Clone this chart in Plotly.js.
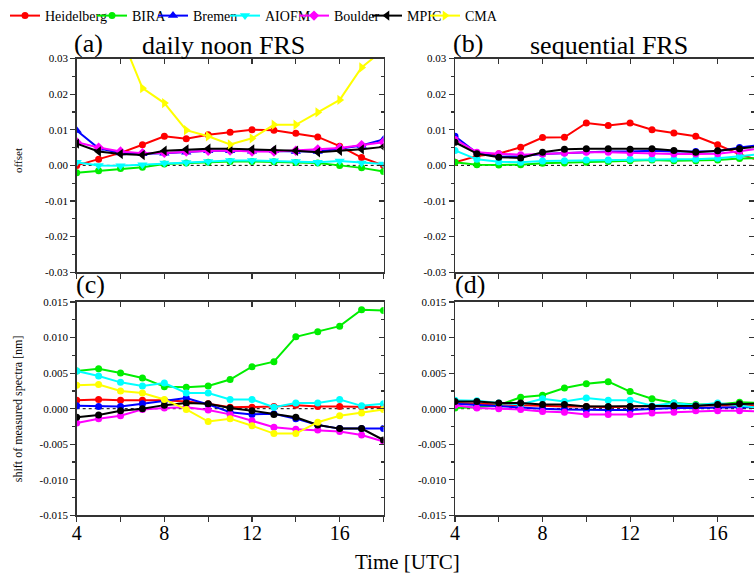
<!DOCTYPE html>
<html>
<head>
<meta charset="utf-8">
<script src="https://cdn.plot.ly/plotly-3.0.1.min.js"></script>
<style>html,body{margin:0;padding:0;background:#fff;}#chart{width:754px;height:580px;}</style>
</head>
<body>
<div id="chart"></div>
<script>
// ---------------- data ----------------
const hours = [4,5,6,7,8,9,10,11,12,13,14,15,16,17,18];
const seriesNames = ['Heidelberg','BIRA','Bremen','AIOFM','Boulder','MPIC','CMA'];

// (a) daily noon FRS - offset
const a_Heidelberg = [0.0000,0.0017,0.0035,0.0058,0.0082,0.0075,0.0086,0.0093,0.0100,0.0099,0.0090,0.0080,0.0054,0.0022,0.0000];
const a_BIRA       = [-0.0021,-0.0015,-0.0009,-0.0005,0.0004,0.0007,0.0009,0.0011,0.0011,0.0010,0.0008,0.0007,0.0000,-0.0007,-0.0017];
const a_Bremen     = [0.0098,0.0048,0.0035,0.0033,0.0034,0.0037,0.0041,0.0041,0.0040,0.0041,0.0039,0.0039,0.0047,0.0056,0.0073];
const a_AIOFM      = [0.0009,0.0000,-0.0001,0.0002,0.0007,0.0008,0.0011,0.0014,0.0014,0.0013,0.0011,0.0009,0.0012,0.0007,0.0004];
const a_Boulder    = [0.0065,0.0050,0.0039,0.0034,0.0035,0.0039,0.0041,0.0042,0.0039,0.0039,0.0041,0.0045,0.0049,0.0057,0.0065];
const a_MPIC       = [0.0061,0.0039,0.0032,0.0029,0.0041,0.0045,0.0047,0.0047,0.0045,0.0044,0.0041,0.0037,0.0041,0.0045,0.0052];
const a_CMA        = [null,null,0.0368,0.0217,0.0175,0.0099,0.0082,0.0059,0.0076,0.0114,0.0114,0.0149,0.0184,0.0275,0.0325];

// (b) sequential FRS - offset
const b_Heidelberg = [0.0009,0.0026,0.0033,0.0051,0.0078,0.0079,0.0119,0.0112,0.0119,0.0100,0.0091,0.0082,0.0058,0.0031,0.0012];
const b_BIRA       = [0.0009,0.0002,0.0001,0.0002,0.0006,0.0007,0.0009,0.0011,0.0013,0.0015,0.0013,0.0013,0.0015,0.0019,0.0021];
const b_Bremen     = [0.0082,0.0035,0.0024,0.0026,0.0032,0.0035,0.0038,0.0039,0.0039,0.0041,0.0039,0.0039,0.0040,0.0050,0.0058];
const b_AIOFM      = [0.0042,0.0017,0.0010,0.0009,0.0012,0.0013,0.0015,0.0015,0.0017,0.0018,0.0017,0.0017,0.0020,0.0026,0.0032];
const b_Boulder    = [0.0073,0.0037,0.0033,0.0030,0.0032,0.0035,0.0037,0.0037,0.0035,0.0033,0.0032,0.0032,0.0033,0.0040,0.0048];
const b_MPIC       = [0.0065,0.0033,0.0023,0.0021,0.0037,0.0045,0.0047,0.0047,0.0045,0.0047,0.0042,0.0037,0.0041,0.0047,0.0054];

// (c) daily noon FRS - shift of measured spectra [nm]
const c_Heidelberg = [0.0012,0.0013,0.0012,0.0012,0.0012,0.0010,0.0007,0.0002,0.0002,0.0003,0.0005,0.0003,0.0003,0.0003,0.0002];
const c_BIRA       = [0.0053,0.0056,0.0050,0.0043,0.0031,0.0030,0.0032,0.0041,0.0059,0.0066,0.0101,0.0108,0.0116,0.0139,0.0138];
const c_Bremen     = [0.0004,0.0003,0.0003,0.0007,0.0011,0.0015,0.0006,-0.0005,-0.0008,-0.0007,-0.0014,-0.0023,-0.0028,-0.0028,-0.0028];
const c_AIOFM      = [0.0053,0.0046,0.0037,0.0032,0.0036,0.0022,0.0022,0.0013,0.0013,0.0002,0.0008,0.0008,0.0013,0.0004,0.0007];
const c_Boulder    = [-0.0020,-0.0014,-0.0010,-0.0001,0.0001,0.0002,-0.0002,-0.0008,-0.0017,-0.0026,-0.0029,-0.0030,-0.0032,-0.0037,-0.0046];
const c_MPIC       = [-0.0012,-0.0009,-0.0003,0.0000,0.0005,0.0008,0.0007,0.0001,-0.0003,-0.0008,-0.0012,-0.0023,-0.0028,-0.0028,-0.0044];
const c_CMA        = [0.0033,0.0034,0.0025,0.0022,0.0013,-0.0001,-0.0018,-0.0014,-0.0024,-0.0035,-0.0035,-0.0019,-0.0010,-0.0006,-0.0001];

// (d) sequential FRS - shift of measured spectra [nm]
const d_Heidelberg = [0.0008,0.0007,0.0006,0.0005,0.0003,0.0003,0.0003,0.0002,0.0003,0.0003,0.0004,0.0004,0.0005,0.0005,0.0004];
const d_BIRA       = [0.0001,0.0002,0.0005,0.0016,0.0019,0.0029,0.0035,0.0038,0.0024,0.0014,0.0008,0.0006,0.0006,0.0009,0.0008];
const d_Bremen     = [0.0007,0.0005,0.0003,0.0002,0.0000,-0.0001,-0.0002,-0.0002,-0.0002,0.0000,0.0001,0.0001,0.0002,0.0002,0.0002];
const d_AIOFM      = [0.0012,0.0011,0.0008,0.0006,0.0014,0.0010,0.0015,0.0012,0.0012,0.0004,0.0008,0.0005,0.0008,0.0005,0.0001];
const d_Boulder    = [0.0005,0.0001,0.0000,-0.0001,-0.0004,-0.0005,-0.0008,-0.0008,-0.0008,-0.0006,-0.0005,-0.0003,-0.0003,-0.0003,-0.0004];
const d_MPIC       = [0.0010,0.0010,0.0008,0.0008,0.0006,0.0006,0.0003,0.0003,0.0003,0.0003,0.0004,0.0004,0.0006,0.0007,0.0007];

// tick labels
const xTickVals = [4,6,8,10,12,14,16,18];
const xTickText = ['4','','8','','12','','16',''];
const offTickVals = [-0.03,-0.02,-0.01,0,0.01,0.02,0.03];
const offTickText = ['-0.03','-0.02','-0.01','0.00','0.01','0.02','0.03'];
const shiftTickVals = [-0.015,-0.01,-0.005,0,0.005,0.01,0.015];
const shiftTickText = ['-0.015','-0.010','-0.005','0.000','0.005','0.010','0.015'];

// ---------------- styles ----------------
const FONT = '"Liberation Serif", "Times New Roman", serif';
const colors = {Heidelberg:'#ff0000', BIRA:'#00ee00', Bremen:'#0000ff', AIOFM:'#00ffff', Boulder:'#ff00ff', MPIC:'#000000', CMA:'#ffff00'};
const symbolsA = {Heidelberg:'circle', BIRA:'circle', Bremen:'triangle-up', AIOFM:'triangle-down', Boulder:'diamond', MPIC:'triangle-left', CMA:'triangle-right'};
const legendIds = ['legend','legend2','legend3','legend4','legend5','legend6','legend7'];

const panels = [
  {xa:'x',  ya:'y',  data:{Heidelberg:a_Heidelberg,BIRA:a_BIRA,Bremen:a_Bremen,AIOFM:a_AIOFM,Boulder:a_Boulder,MPIC:a_MPIC,CMA:a_CMA}, sym:'A', legend:true},
  {xa:'x2', ya:'y2', data:{Heidelberg:b_Heidelberg,BIRA:b_BIRA,Bremen:b_Bremen,AIOFM:b_AIOFM,Boulder:b_Boulder,MPIC:b_MPIC}, sym:'circle'},
  {xa:'x3', ya:'y3', data:{Heidelberg:c_Heidelberg,BIRA:c_BIRA,Bremen:c_Bremen,AIOFM:c_AIOFM,Boulder:c_Boulder,MPIC:c_MPIC,CMA:c_CMA}, sym:'circle'},
  {xa:'x4', ya:'y4', data:{Heidelberg:d_Heidelberg,BIRA:d_BIRA,Bremen:d_Bremen,AIOFM:d_AIOFM,Boulder:d_Boulder,MPIC:d_MPIC}, sym:'circle'}
];

const traces = [];
panels.forEach(p => {
  seriesNames.forEach((name, i) => {
    if (!p.data[name]) return;
    const sym = p.sym === 'A' ? symbolsA[name] : 'circle';
    const sz = sym === 'circle' ? 7 : (sym === 'diamond' ? 8 : 9);
    traces.push({
      type:'scatter', mode:'lines+markers', name:name,
      x:hours, y:p.data[name], xaxis:p.xa, yaxis:p.ya,
      line:{color:colors[name], width:2},
      marker:{color:colors[name], symbol:sym, size:sz},
      showlegend: !!p.legend, legend: legendIds[i],
      connectgaps:false
    });
  });
});
// helper traces for inside mirrored ticks (top / right)
[['x5','y5'],['x6','y6'],['x7','y7'],['x8','y8']].forEach(([xa,ya]) => {
  traces.push({type:'scatter', mode:'lines', x:[], y:[], xaxis:xa, yaxis:ya, showlegend:false, hoverinfo:'skip'});
});

const W = 754, H = 580;
const domXL = [76.7/W, 383.5/W];
const domXR = [455/W, 1];
const domYT = [1-270/H, 1-55/H];
const domYB = [1-515/H, 1-300/H];
const rangeL = [4, 18];
const rangeR = [4, 17.66];
const rangeOff = [-0.03, 0.03];
const rangeShift = [-0.015, 0.015];
const AX = '#333';

function xAxis(domain, range, anchor, labels) {
  return {domain, range, anchor, tickmode:'array', tickvals:xTickVals,
    ticktext: labels ? xTickText : xTickVals.map(()=>''),
    ticks:'outside', ticklen:5, tickwidth:1.2, tickcolor:AX, ticklabelstandoff:-6,
    showline:true, linecolor:AX, linewidth:1.5, mirror:true,
    showgrid:false, zeroline:false,
    tickfont:{family:FONT, size:20, color:'#000'}};
}
function yAxis(domain, range, anchor, vals, text, minorD) {
  return {domain, range, anchor, tickmode:'array', tickvals:vals, ticktext:text,
    ticks:'outside', ticklen:5, tickwidth:1.2, tickcolor:AX,
    minor:{dtick:minorD, tick0:0, ticks:'outside', ticklen:3, tickwidth:1.2, tickcolor:AX},
    showline:true, linecolor:AX, linewidth:1.5, mirror:true,
    showgrid:false, zeroline:false,
    tickfont:{family:FONT, size:11, color:'#000'}};
}
function xTop(over, range, anchor) {
  return {overlaying:over, anchor, side:'top', range, tickmode:'array', tickvals:xTickVals,
    ticks:'inside', ticklen:5, tickwidth:1.2, tickcolor:AX, showticklabels:false,
    showline:false, showgrid:false, zeroline:false};
}
function yRight(over, range, anchor, vals, minorD) {
  return {overlaying:over, anchor, side:'right', range, tickmode:'array', tickvals:vals,
    ticks:'inside', ticklen:5, tickwidth:1.2, tickcolor:AX, showticklabels:false,
    minor:{dtick:minorD, tick0:0, ticks:'inside', ticklen:3, tickwidth:1.2, tickcolor:AX},
    showline:false, showgrid:false, zeroline:false};
}

const legendX = [5, 92, 153, 225, 294, 367, 425];
const layout = {
  width:W, height:H, margin:{l:0, r:0, t:0, b:0},
  paper_bgcolor:'#fff', plot_bgcolor:'rgba(0,0,0,0)',
  font:{family:FONT, color:'#000'},
  xaxis: xAxis(domXL, rangeL, 'y', false),
  yaxis: yAxis(domYT, rangeOff, 'x', offTickVals, offTickText, 0.005),
  xaxis2: xAxis(domXR, rangeR, 'y2', false),
  yaxis2: yAxis(domYT, rangeOff, 'x2', offTickVals, offTickText, 0.005),
  xaxis3: xAxis(domXL, rangeL, 'y3', true),
  yaxis3: yAxis(domYB, rangeShift, 'x3', shiftTickVals, shiftTickText, 0.0025),
  xaxis4: xAxis(domXR, rangeR, 'y4', true),
  yaxis4: yAxis(domYB, rangeShift, 'x4', shiftTickVals, shiftTickText, 0.0025),
  xaxis5: xTop('x', rangeL, 'y5'),
  yaxis5: yRight('y', rangeOff, 'x5', offTickVals, 0.005),
  xaxis6: xTop('x2', rangeR, 'y6'),
  yaxis6: yRight('y2', rangeOff, 'x6', offTickVals, 0.005),
  xaxis7: xTop('x3', rangeL, 'y7'),
  yaxis7: yRight('y3', rangeShift, 'x7', shiftTickVals, 0.0025),
  xaxis8: xTop('x4', rangeR, 'y8'),
  yaxis8: yRight('y4', rangeShift, 'x8', shiftTickVals, 0.0025),
  shapes: ['x','x2','x3','x4'].map((xa,i) => ({type:'line', xref:xa+' domain', x0:0, x1:1,
    yref:['y','y2','y3','y4'][i], y0:0, y1:0, line:{color:'#000', width:1, dash:'3px,3px'}, layer:'below'})),
  annotations: [
    {text:'(a)', x:72/W, y:1-40/H, xref:'paper', yref:'paper', xanchor:'left', yanchor:'middle', showarrow:false, font:{size:26}},
    {text:'daily noon FRS', x:223/W, y:1-42/H, xref:'paper', yref:'paper', xanchor:'center', yanchor:'middle', showarrow:false, font:{size:26}},
    {text:'(b)', x:451/W, y:1-40/H, xref:'paper', yref:'paper', xanchor:'left', yanchor:'middle', showarrow:false, font:{size:26}},
    {text:'sequential FRS', x:609/W, y:1-42/H, xref:'paper', yref:'paper', xanchor:'center', yanchor:'middle', showarrow:false, font:{size:26}},
    {text:'(c)', x:74/W, y:1-282/H, xref:'paper', yref:'paper', xanchor:'left', yanchor:'middle', showarrow:false, font:{size:26}},
    {text:'(d)', x:453/W, y:1-282/H, xref:'paper', yref:'paper', xanchor:'left', yanchor:'middle', showarrow:false, font:{size:26}},
    {text:'offset', x:18/W, y:1-158/H, xref:'paper', yref:'paper', xanchor:'center', yanchor:'middle', textangle:-90, showarrow:false, font:{size:11}},
    {text:'shift of measured spectra [nm]', x:18/W, y:1-408/H, xref:'paper', yref:'paper', xanchor:'center', yanchor:'middle', textangle:-90, showarrow:false, font:{size:12}},
    {text:'Time [UTC]', x:407/W, y:1-562/H, xref:'paper', yref:'paper', xanchor:'center', yanchor:'middle', showarrow:false, font:{size:21}}
  ]
};
legendIds.forEach((id, i) => {
  layout[id] = {x:legendX[i]/W, y:1-12/H, xanchor:'left', yanchor:'middle', orientation:'h',
    font:{family:FONT, size:14, color:'#000'}, bgcolor:'rgba(0,0,0,0)', borderwidth:0, itemwidth:30};
});

Plotly.newPlot('chart', traces, layout, {staticPlot:true, displayModeBar:false});
</script>
</body>
</html>
